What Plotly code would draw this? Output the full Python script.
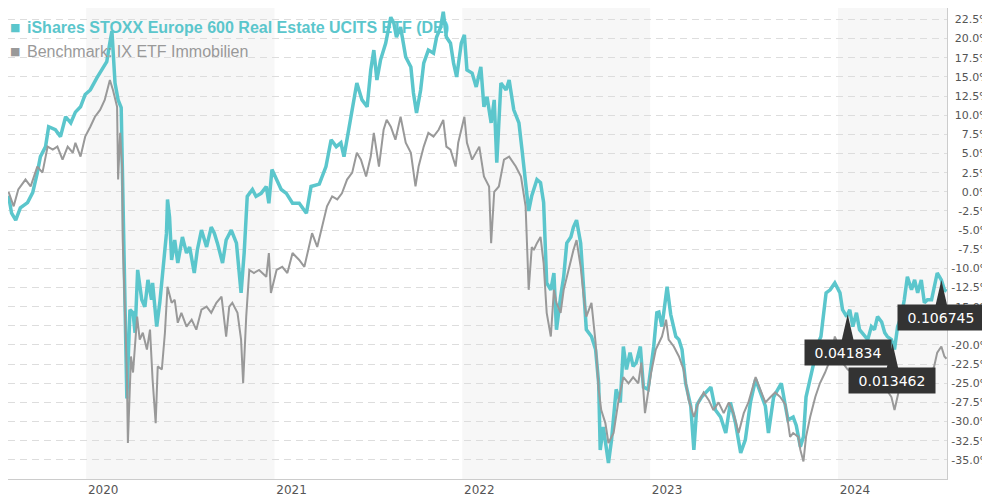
import numpy as np
import pandas as pd
import plotly.graph_objects as go

etf_name = "iShares STOXX Europe 600 Real Estate UCITS ETF (DE)"
bm_name = "Benchmark: IX ETF Immobilien"

# --- ETF performance (%) ---
etf_dates = [
    "2019-08-03", "2019-08-09", "2019-08-17", "2019-08-26", "2019-09-09", "2019-09-19", "2019-09-28", "2019-10-04",
    "2019-10-14", "2019-10-20", "2019-11-02", "2019-11-12", "2019-11-22", "2019-12-02", "2019-12-11", "2019-12-21",
    "2019-12-30",
    "2020-01-09", "2020-01-22", "2020-02-01", "2020-02-10", "2020-02-16", "2020-02-20", "2020-02-26", "2020-03-03",
    "2020-03-09", "2020-03-12", "2020-03-16", "2020-03-20", "2020-03-26", "2020-04-01", "2020-04-05", "2020-04-10",
    "2020-04-18", "2020-04-24", "2020-04-30", "2020-05-07", "2020-05-09", "2020-05-17", "2020-05-23", "2020-05-29",
    "2020-06-05", "2020-06-07", "2020-06-11", "2020-06-15", "2020-06-21", "2020-06-27", "2020-07-06", "2020-07-14",
    "2020-07-20", "2020-07-29", "2020-08-04", "2020-08-12", "2020-08-22", "2020-08-31", "2020-09-06", "2020-09-12",
    "2020-09-22", "2020-09-29", "2020-10-09", "2020-10-19", "2020-10-28", "2020-11-03", "2020-11-09", "2020-11-19",
    "2020-11-26", "2020-12-06", "2020-12-16", "2020-12-21", "2020-12-27",
    "2021-01-05", "2021-01-14", "2021-01-24", "2021-02-05", "2021-02-18", "2021-03-04", "2021-03-13", "2021-03-29",
    "2021-04-11", "2021-04-21", "2021-05-01", "2021-05-10", "2021-05-16", "2021-05-26", "2021-06-04", "2021-06-10",
    "2021-06-20", "2021-06-30", "2021-07-07", "2021-07-13", "2021-07-19", "2021-07-26", "2021-08-05", "2021-08-15",
    "2021-08-21", "2021-08-26", "2021-09-03", "2021-09-13", "2021-09-23", "2021-09-28", "2021-10-04", "2021-10-12",
    "2021-10-18", "2021-10-27", "2021-11-06", "2021-11-12", "2021-11-20", "2021-11-25", "2021-12-01", "2021-12-09",
    "2021-12-15", "2021-12-21", "2021-12-30",
    "2022-01-05", "2022-01-10", "2022-01-20", "2022-01-28", "2022-02-06", "2022-02-12", "2022-02-18", "2022-02-26",
    "2022-03-04", "2022-03-09", "2022-03-17", "2022-03-27", "2022-04-02", "2022-04-11", "2022-04-21", "2022-04-27",
    "2022-05-04", "2022-05-10", "2022-05-16", "2022-05-26", "2022-06-02", "2022-06-08", "2022-06-14", "2022-06-22",
    "2022-06-28", "2022-07-03", "2022-07-11", "2022-07-17", "2022-07-23", "2022-07-31", "2022-08-05", "2022-08-11",
    "2022-08-19", "2022-08-25", "2022-08-30", "2022-09-09", "2022-09-17", "2022-09-23", "2022-09-26", "2022-10-02",
    "2022-10-12", "2022-10-18", "2022-10-27", "2022-11-04", "2022-11-10", "2022-11-16", "2022-11-23", "2022-11-29",
    "2022-12-05", "2022-12-13", "2022-12-19", "2022-12-28",
    "2023-01-08", "2023-01-14", "2023-01-18", "2023-01-24", "2023-02-03", "2023-02-10", "2023-02-16", "2023-02-20",
    "2023-02-26", "2023-03-04", "2023-03-11", "2023-03-21", "2023-03-27", "2023-04-02", "2023-04-11", "2023-04-29",
    "2023-05-08", "2023-05-18", "2023-05-28", "2023-06-06", "2023-06-16", "2023-06-26", "2023-07-05", "2023-07-15",
    "2023-07-25", "2023-08-03", "2023-08-13", "2023-08-19", "2023-08-29", "2023-09-03", "2023-09-13", "2023-09-21",
    "2023-09-26", "2023-10-06", "2023-10-12", "2023-10-20", "2023-10-26", "2023-10-31", "2023-11-08", "2023-11-14",
    "2023-11-24", "2023-11-29", "2023-12-03", "2023-12-09", "2023-12-17", "2023-12-26",
    "2024-01-05", "2024-01-10", "2024-01-18", "2024-01-24", "2024-01-30", "2024-02-06", "2024-02-12", "2024-02-22",
    "2024-02-28", "2024-03-06", "2024-03-12", "2024-03-18", "2024-03-26", "2024-04-01", "2024-04-06", "2024-04-14",
    "2024-04-20", "2024-04-26", "2024-05-03", "2024-05-09", "2024-05-15", "2024-05-23", "2024-05-29", "2024-06-04",
    "2024-06-11", "2024-06-17", "2024-06-23", "2024-07-01", "2024-07-06", "2024-07-12", "2024-07-20", "2024-07-26",
    "2024-07-30",
]
etf_values = [
    -0.5, -2.8, -3.7, -2.1, -1.4, -0.1, 2.5, 4.6, 5.9, 8.5, 8.1, 7.2, 9.8, 9.0, 10.4, 11.1, 12.7,
    13.3, 14.9, 15.9, 17.0, 19.5, 21.0, 14.2, 12.0, 11.0, -1.0, -12.0, -27.0, -15.4, -15.8, -18.4, -10.2,
    -14.1, -15.0, -11.5, -14.1, -11.9, -17.6, -14.5, -10.6, -5.4, -1.0, -3.3, -8.9, -6.3, -9.3, -5.9, -8.0,
    -7.2, -10.6, -7.6, -5.0, -7.2, -4.6, -5.4, -6.7, -9.3, -6.3, -5.0, -6.7, -13.2, -8.0, -0.6, 0.3,
    -0.6, -0.2, 0.7, -1.5, 2.9,
    1.6, 0.3, -0.2, -1.5, -1.5, -2.8, 0.7, 1.0, 3.3, 6.8, 5.9, 6.4, 4.6, 8.5, 12.0, 14.2,
    12.0, 11.1, 15.9, 18.5, 14.6, 17.2, 19.4, 22.8, 22.0, 20.2, 21.5, 17.6, 16.3, 12.9, 10.3, 13.3,
    16.8, 18.5, 18.1, 20.2, 21.5, 23.5, 20.2, 19.4, 16.8, 15.0, 19.4,
    20.5, 15.9, 15.5, 13.7, 16.3, 11.1, 12.4, 9.0, 12.0, 3.8, 14.2, 13.3, 14.6, 10.7, 9.0, 5.5,
    1.2, -2.5, -0.5, 1.6, 1.2, -1.4, -11.9, -12.8, -10.6, -18.0, -13.7, -11.1, -6.7, -5.9, -4.6, -3.7,
    -6.7, -12.8, -18.0, -18.9, -20.6, -25.0, -33.7, -30.7, -35.4, -32.4, -25.8, -27.5, -20.2, -23.2, -21.0, -22.8,
    -22.3, -20.2, -25.5, -25.8,
    -20.2, -15.8, -15.7, -17.6, -12.4, -16.0, -18.0, -18.9, -19.3, -20.6, -25.0, -28.0, -33.7, -27.8, -26.8, -25.5,
    -28.5, -29.4, -31.5, -27.5, -30.2, -34.1, -32.4, -27.5, -24.5, -26.2, -28.0, -31.5, -26.8, -26.2, -25.0, -28.0,
    -29.8, -29.4, -30.5, -33.3, -32.0, -26.8, -24.5, -22.3, -19.7, -18.9, -16.7, -13.2, -12.8, -11.9,
    -13.2, -15.4, -16.3, -15.4, -17.6, -15.8, -18.0, -18.9, -19.3, -17.6, -18.0, -16.3, -17.0, -18.4, -18.9, -19.3,
    -20.6, -17.6, -16.3, -14.1, -11.1, -12.8, -11.5, -13.2, -11.5, -14.5, -14.1, -14.1, -12.4, -10.6, -11.5, -12.8,
    -13.0,
]

# --- Benchmark performance (%) ---
bm_dates = [
    "2019-08-03", "2019-08-13", "2019-08-22", "2019-09-05", "2019-09-15", "2019-09-28", "2019-10-08", "2019-10-18",
    "2019-10-28", "2019-11-06", "2019-11-16", "2019-11-26", "2019-12-06", "2019-12-11", "2019-12-21", "2019-12-30",
    "2020-01-09", "2020-01-18", "2020-01-28", "2020-02-06", "2020-02-16", "2020-02-22", "2020-03-01", "2020-03-03",
    "2020-03-07", "2020-03-11", "2020-03-12", "2020-03-16", "2020-03-20", "2020-03-22", "2020-03-28", "2020-04-01",
    "2020-04-09", "2020-04-14", "2020-04-20", "2020-04-28", "2020-05-04", "2020-05-09", "2020-05-15", "2020-05-19",
    "2020-05-27", "2020-06-02", "2020-06-07", "2020-06-15", "2020-06-21", "2020-06-27", "2020-07-04", "2020-07-14",
    "2020-07-24", "2020-08-02", "2020-08-12", "2020-08-22", "2020-08-31", "2020-09-10", "2020-09-20", "2020-09-29",
    "2020-10-05", "2020-10-11", "2020-10-21", "2020-10-28", "2020-11-01", "2020-11-07", "2020-11-13", "2020-11-22",
    "2020-12-02", "2020-12-16", "2020-12-21", "2020-12-25",
    "2021-01-05", "2021-01-16", "2021-01-26", "2021-02-05", "2021-02-18", "2021-02-28", "2021-03-06", "2021-03-15",
    "2021-03-25", "2021-04-04", "2021-04-13", "2021-04-23", "2021-05-03", "2021-05-12", "2021-05-22", "2021-06-01",
    "2021-06-10", "2021-06-18", "2021-06-28", "2021-07-07", "2021-07-13", "2021-07-23", "2021-08-01", "2021-08-07",
    "2021-08-15", "2021-08-24", "2021-09-03", "2021-09-13", "2021-09-23", "2021-10-02", "2021-10-08", "2021-10-18",
    "2021-10-27", "2021-11-06", "2021-11-16", "2021-11-25", "2021-12-01", "2021-12-09", "2021-12-19", "2021-12-24",
    "2022-01-05", "2022-01-10", "2022-01-20", "2022-02-03", "2022-02-12", "2022-02-22", "2022-02-26", "2022-03-04",
    "2022-03-13", "2022-03-23", "2022-04-02", "2022-04-15", "2022-04-25", "2022-05-04", "2022-05-10", "2022-05-16",
    "2022-05-20", "2022-05-26", "2022-06-02", "2022-06-08", "2022-06-14", "2022-06-22", "2022-06-28", "2022-07-03",
    "2022-07-11", "2022-07-17", "2022-07-23", "2022-07-31", "2022-08-05", "2022-08-11", "2022-08-19", "2022-08-25",
    "2022-08-30", "2022-09-09", "2022-09-17", "2022-09-23", "2022-09-28", "2022-10-06", "2022-10-12", "2022-10-22",
    "2022-10-31", "2022-11-10", "2022-11-20", "2022-11-29", "2022-12-09", "2022-12-15", "2022-12-22",
    "2023-01-03", "2023-01-12", "2023-01-24", "2023-02-01", "2023-02-06", "2023-02-16", "2023-02-26", "2023-03-07",
    "2023-03-17", "2023-03-27", "2023-04-05", "2023-04-15", "2023-04-25", "2023-05-04", "2023-05-14", "2023-05-24",
    "2023-06-03", "2023-06-12", "2023-06-22", "2023-07-02", "2023-07-11", "2023-07-25", "2023-08-03", "2023-08-13",
    "2023-08-23", "2023-09-01", "2023-09-11", "2023-09-21", "2023-09-30", "2023-10-06", "2023-10-16", "2023-10-20",
    "2023-10-26", "2023-10-31", "2023-11-08", "2023-11-18", "2023-11-27", "2023-12-07", "2023-12-17", "2023-12-26",
    "2024-01-05", "2024-01-10", "2024-01-20", "2024-01-30", "2024-02-06", "2024-02-16", "2024-02-26", "2024-03-06",
    "2024-03-16", "2024-03-26", "2024-04-04", "2024-04-14", "2024-04-20", "2024-04-30", "2024-05-09", "2024-05-19",
    "2024-05-29", "2024-06-07", "2024-06-17", "2024-06-27", "2024-07-06", "2024-07-12", "2024-07-20", "2024-07-26",
    "2024-07-30",
]
bm_values = [
    0.0, -1.9, 0.3, 1.6, 0.7, 3.3, 2.5, 5.9, 5.5, 5.9, 4.2, 5.9, 5.1, 6.4, 4.6, 7.2,
    8.5, 9.8, 10.7, 12.0, 14.6, 13.3, 11.1, 1.6, 7.7, 3.0, -6.3, -15.0, -23.6, -32.8, -21.5, -23.6,
    -16.3, -19.3, -18.4, -20.6, -18.0, -24.5, -30.2, -22.8, -23.2, -18.4, -12.4, -14.5, -14.1, -17.1, -15.8, -17.6,
    -16.7, -18.0, -15.4, -15.0, -15.8, -14.5, -13.7, -18.9, -15.0, -14.5, -15.8, -19.3, -25.0, -16.3, -10.2, -10.6,
    -10.2, -11.1, -8.0, -13.2,
    -10.2, -9.8, -10.6, -8.0, -8.9, -9.8, -8.0, -5.4, -7.2, -4.6, -1.9, -0.6, -1.0, -0.2, 1.6, 2.5,
    5.1, 4.2, 2.0, 4.6, 7.7, 3.3, 8.1, 9.4, 8.5, 6.8, 9.8, 6.4, 5.1, 0.7, 3.3, 5.9,
    7.7, 7.2, 8.1, 9.4, 5.9, 5.5, 3.3, 6.4,
    9.8, 6.4, 4.2, 5.9, 2.0, 0.7, -6.7, 0.0, 0.7, 4.2, 4.6, 3.3, 2.0, -1.9, -12.8, -7.2,
    -7.6, -6.7, -5.9, -9.3, -15.8, -18.9, -12.8, -14.5, -15.8, -12.8, -11.1, -8.9, -7.6, -6.3, -9.8, -13.7,
    -16.3, -14.5, -19.7, -25.8, -28.5, -30.2, -32.8, -31.5, -27.5, -24.2, -25.0, -24.2, -25.0, -22.3, -28.9,
    -23.6, -20.6, -18.9, -16.7, -19.3, -20.2, -21.5, -23.2, -27.2, -29.4, -27.5, -26.2, -27.2, -28.5, -27.5, -28.9,
    -27.5, -28.9, -31.5, -28.9, -27.5, -24.2, -25.8, -27.5, -26.8, -26.2, -26.8, -27.8, -32.0, -31.5, -32.0, -33.7,
    -35.2, -32.0, -29.4, -26.8, -25.0, -23.6, -21.9, -18.9,
    -20.5, -22.3, -23.2, -23.6, -24.5, -25.5, -25.8, -25.0, -24.5, -24.2, -25.8, -26.8, -28.5, -25.5, -25.0, -25.8,
    -25.0, -26.2, -25.0, -24.2, -22.8, -21.0, -20.2, -21.5, -21.8,
]

# --- distribution flags on the ETF line ---
flag_dates = ["2024-01-20", "2024-04-16", "2024-07-20"]
flag_labels = ["0.041834", "0.013462", "0.106745"]

# --- axes ---
year_ticks = ["2020-01-01", "2021-01-01", "2022-01-01", "2023-01-01", "2024-01-01"]
year_labels = ["2020", "2021", "2022", "2023", "2024"]
shaded_years = [2020, 2022, 2024]
y_ticks = [22.5, 20.0, 17.5, 15.0, 12.5, 10.0, 7.5, 5.0, 2.5, 0.0, -2.5, -5.0, -7.5, -10.0,
           -12.5, -15.0, -17.5, -20.0, -22.5, -25.0, -27.5, -30.0, -32.5, -35.0]
x_range = ["2019-08-02", "2024-07-31"]
y_range = [-37.5, 24.0]

assert len(etf_dates) == len(etf_values)
assert len(bm_dates) == len(bm_values)

TEAL = "#5bc6cc"
GRAY = "#999999"
DARK = "#333333"

# page has an 8px body margin: figure is sized/offset to compensate
FIG_W, FIG_H = 982, 490
M_L, M_R, M_T, M_B = 0, 43, 0, 19
PLOT_H = FIG_H - M_T - M_B


def tick_text(v):
    s = f"{v:.1f}%"
    pad = ""
    if abs(v) < 10:
        pad += "\u2007"
    if v >= 0:
        pad += "\u2008"
    return pad + s


fig = go.Figure()
fig.add_trace(go.Scatter(x=pd.to_datetime(etf_dates), y=etf_values, mode="lines",
                         line=dict(color=TEAL, width=3.5), name=etf_name, hoverinfo="skip"))
fig.add_trace(go.Scatter(x=pd.to_datetime(bm_dates), y=bm_values, mode="lines",
                         line=dict(color=GRAY, width=2), name=bm_name, hoverinfo="skip"))

# flag positions from the ETF series
etf_t = pd.to_datetime(etf_dates).astype("int64").to_numpy()
px_per_pct = PLOT_H / (y_range[1] - y_range[0])
drop = 27 / px_per_pct
half = pd.Timedelta(days=12)
annotations = []
for d, lab in zip(flag_dates, flag_labels):
    dt = pd.Timestamp(d)
    v = float(np.interp(dt.value, etf_t, etf_values))
    fig.add_trace(go.Scatter(x=[dt - half, dt, dt + half, dt - half],
                             y=[v - drop, v, v - drop, v - drop],
                             mode="lines", fill="toself", fillcolor=DARK,
                             line=dict(width=0, color=DARK), hoverinfo="skip"))
    annotations.append(dict(x=dt, y=v, xref="x", yref="y", text=lab, showarrow=False,
                            yshift=-38, xanchor="center", yanchor="middle",
                            bgcolor=DARK, borderpad=2, width=82, height=21,
                            font=dict(family="DejaVu Sans", size=14, color="#ffffff")))

# legend as text
annotations += [
    dict(text="■", x=0, xref="paper", xanchor="left", xshift=0, y=1, yref="paper",
         yanchor="middle", yshift=-19, showarrow=False,
         font=dict(family="DejaVu Sans", size=11, color=TEAL)),
    dict(text="<b>" + etf_name + "</b>", x=0, xref="paper", xanchor="left", xshift=17, y=1,
         yref="paper", yanchor="middle", yshift=-19, showarrow=False,
         font=dict(family="Liberation Sans", size=16, color=TEAL)),
    dict(text="■", x=0, xref="paper", xanchor="left", xshift=0, y=1, yref="paper",
         yanchor="middle", yshift=-43, showarrow=False,
         font=dict(family="DejaVu Sans", size=11, color=GRAY)),
    dict(text=bm_name, x=0, xref="paper", xanchor="left", xshift=17, y=1,
         yref="paper", yanchor="middle", yshift=-43, showarrow=False,
         font=dict(family="Liberation Sans", size=16, color=GRAY)),
]

shapes = [dict(type="rect", xref="x", yref="paper", x0=f"{yr}-01-01", x1=f"{yr + 1}-01-01",
               y0=0, y1=1, fillcolor="#f7f7f7", line=dict(width=0), layer="below")
          for yr in shaded_years]

fig.update_layout(
    width=FIG_W, height=FIG_H,
    margin=dict(l=M_L, r=M_R, t=M_T, b=M_B, autoexpand=False),
    paper_bgcolor="#ffffff", plot_bgcolor="#ffffff",
    showlegend=False, hovermode=False,
    annotations=annotations, shapes=shapes,
    xaxis=dict(type="date", range=x_range, tickvals=year_ticks, ticktext=year_labels,
               ticklabelshift=17, showgrid=False, zeroline=False, showline=True,
               linecolor="#cccccc", linewidth=1, ticks="", automargin=False,
               tickfont=dict(family="DejaVu Sans", size=12, color="#555555")),
    yaxis=dict(side="right", range=y_range, tickvals=y_ticks,
               ticktext=[tick_text(v) for v in y_ticks],
               showgrid=True, gridcolor="#dddddd", griddash="7px,5px", gridwidth=1,
               zeroline=False, showline=True, linecolor="#cccccc", linewidth=1,
               ticks="", ticklabelstandoff=1, automargin=False,
               tickfont=dict(family="DejaVu Sans", size=11, color="#555555")),
)

fig.write_html("out.html")
